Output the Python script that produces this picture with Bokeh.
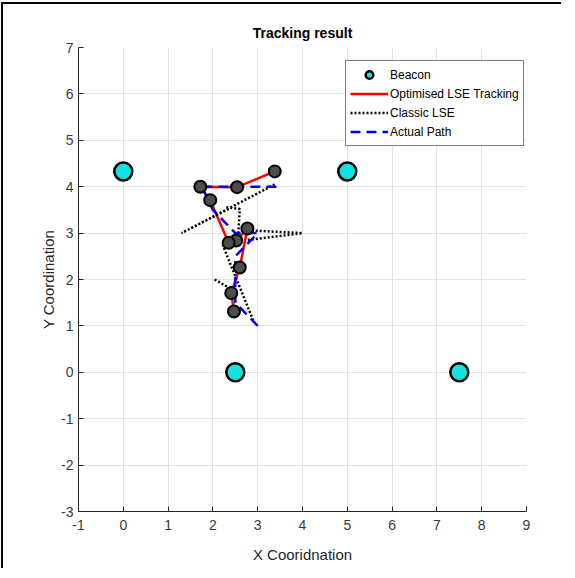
from bokeh.plotting import figure
from bokeh.models import Range1d, FixedTicker, Legend, LegendItem
from bokeh.embed import file_html
from bokeh.resources import INLINE

nan = float("nan")

# Beacons (anchors)
beacon_x = [0.0, 5.0, 2.5, 7.5]
beacon_y = [4.33, 4.33, 0.0, 0.0]

# Optimised LSE tracking estimates (in path order)
opt_x = [2.47, 2.41, 2.60, 2.77, 2.52, 2.35, 1.94, 1.72, 2.54, 3.38]
opt_y = [1.31, 1.71, 2.26, 3.10, 2.84, 2.79, 3.71, 4.00, 3.99, 4.33]

# Classic LSE estimates (segments separated by gaps)
cls_x = [2.04, 2.47, nan, 2.90, 2.22, nan, 2.78, 4.00, 2.78, nan,
         2.30, 2.60, 2.56, nan, 2.35, 1.30, 3.42]
cls_y = [2.00, 1.76, nan, 1.12, 2.74, nan, 2.85, 3.00, 3.06, nan,
         3.56, 3.52, 2.88, nan, 3.52, 3.00, 4.07]

# Actual path
act_x = [3.0, 2.5, 2.5, 3.0, 2.5, 2.0, 1.75, 3.5]
act_y = [1.0, 1.5, 2.5, 3.0, 3.0, 3.5, 4.0, 4.0]

x_ticks = [-1, 0, 1, 2, 3, 4, 5, 6, 7, 8, 9]
y_ticks = [-3, -2, -1, 0, 1, 2, 3, 4, 5, 6, 7]

FONT = "Liberation Sans"

p = figure(width=560, height=566, x_range=Range1d(-1, 9), y_range=Range1d(-3, 7),
           output_backend="svg", toolbar_location=None,
           min_border_left=75, min_border_right=37, min_border_top=43, min_border_bottom=59)
p.styles = {"border-left": "2px solid black", "border-top": "2px solid black",
            "margin-left": "1px", "margin-top": "2px"}

p.title.text = "Tracking result"
p.title.align = "center"
p.title.text_font = FONT
p.title.text_font_size = "14px"
p.title.text_font_style = "bold"
p.title.text_color = "black"
p.title.standoff = 13

p.outline_line_color = None
p.background_fill_color = "white"
p.border_fill_color = "white"

for ax, ticks, label in [(p.xaxis[0], x_ticks, "X Cooridnation"), (p.yaxis[0], y_ticks, "Y Coordination")]:
    ax.ticker = FixedTicker(ticks=ticks)
    ax.major_label_overrides = {t: str(t) for t in ticks}
    ax.axis_label = label
    ax.axis_label_text_font = FONT
    ax.axis_label_text_font_size = "15px"
    ax.axis_label_text_font_style = "normal"
    ax.axis_label_text_color = "#262626"
    ax.major_label_text_font = FONT
    ax.major_label_text_font_size = "14px"
    ax.major_label_text_color = "#3a3a3a"
    ax.axis_line_color = "#262626"
    ax.axis_line_width = 1
    ax.major_tick_line_color = "#262626"
    ax.major_tick_in = 5
    ax.major_tick_out = 0
    ax.minor_tick_line_color = None

p.xaxis[0].major_label_standoff = 8
p.xaxis[0].axis_label_standoff = 13
p.yaxis[0].major_label_standoff = 5
p.yaxis[0].axis_label_standoff = 1

p.xgrid.ticker = FixedTicker(ticks=x_ticks)
p.ygrid.ticker = FixedTicker(ticks=y_ticks)
p.grid.grid_line_color = "#e3e3e3"
p.grid.grid_line_width = 1

r_beacon = p.scatter(beacon_x, beacon_y, size=18, fill_color="#12e2e2",
                     line_color="black", line_width=2.5)
r_opt = p.line(opt_x, opt_y, line_color="#ff0000", line_width=2.5)
r_cls = p.line(cls_x, cls_y, line_color="black", line_width=2.5, line_dash="2 2")
r_act = p.line(act_x, act_y, line_color="#0000ff", line_width=2.5, line_dash="10 6")
p.scatter(opt_x, opt_y, size=12, fill_color="#4d4d4d", line_color="black", line_width=2)

legend = Legend(items=[
    LegendItem(label="Beacon", renderers=[r_beacon]),
    LegendItem(label="Optimised LSE Tracking", renderers=[r_opt]),
    LegendItem(label="Classic LSE", renderers=[r_cls]),
    LegendItem(label="Actual Path", renderers=[r_act]),
], location=(267, 365))
legend.label_text_font = FONT
legend.label_text_font_size = "12px"
legend.label_text_color = "black"
legend.label_height = 19
legend.glyph_height = 19
legend.glyph_width = 38
legend.label_standoff = 2
legend.spacing = 0
legend.padding = 4
legend.margin = 0
legend.border_line_color = "black"
legend.border_line_width = 1
legend.background_fill_color = "white"
legend.background_fill_alpha = 1
p.add_layout(legend, "center")

open("out.html", "w").write(file_html(p, INLINE))
